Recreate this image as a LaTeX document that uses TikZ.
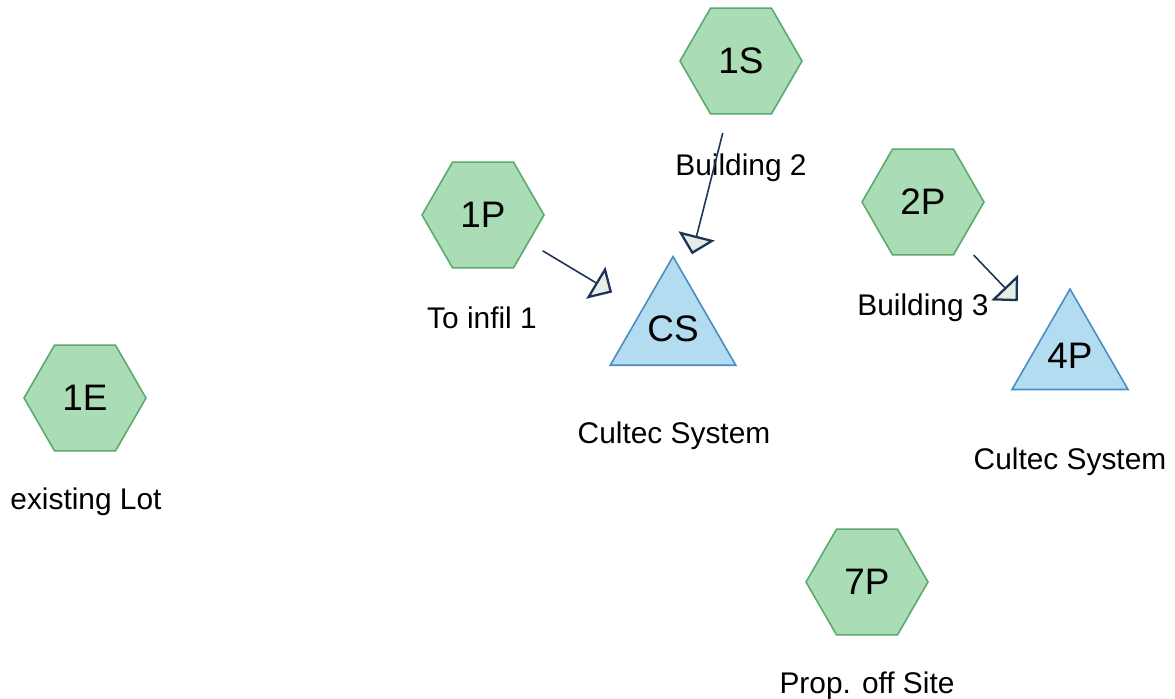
\documentclass[tikz,border=0pt]{standalone}
\usepackage{fontspec}
\setmainfont{Liberation Sans}
\usepackage{tikz}
\usetikzlibrary{arrows.meta,shapes.geometric}
\definecolor{LotCanvas}{HTML}{FFFFFF}
\definecolor{LotGreen}{HTML}{AADDB6}
\definecolor{LotGreenLine}{HTML}{5CA96C}
\definecolor{LotBlue}{HTML}{B3DCF0}
\definecolor{LotBlueLine}{HTML}{4A8CC6}
\definecolor{LotInk}{HTML}{1E3457}
\definecolor{LotTip}{HTML}{E6ECE6}
\tikzset{
  pipe/.style={-{Triangle[length=3.8mm,width=7.4mm,fill=LotTip,line width=1.3pt]},
               LotInk,line width=0.9pt},
  basin/.style={regular polygon,regular polygon sides=6,draw=LotGreenLine,fill=LotGreen,
                line width=0.9pt,minimum size=2.44cm,inner sep=0pt,
                font=\fontsize{21}{25}\selectfont},
  cultec/.style={regular polygon,regular polygon sides=3,draw=LotBlueLine,fill=LotBlue,
                 line width=0.9pt,minimum size=2.68cm,inner sep=0pt,
                 font=\fontsize{21}{25}\selectfont},
  caption/.style={anchor=base,font=\fontsize{17}{20}\selectfont,align=center},
}

\begin{document}
\begin{tikzpicture}[x=.02cm,y=-.02cm]
    \useasboundingbox[fill=LotCanvas] (0,0) rectangle (1175,698);

    % basins
    \node[basin] (p1S) at (741,61) {1S};
    \node[basin] (p1P) at (483,215) {1P};
    \node[basin] (p2P) at (923,202) {2P};
    \node[basin] (p1E) at (85,398) {1E};
    \node[basin] (p7P) at (867,582) {7P};

    % cultec chambers
    \node[cultec] (cs) at (673,329) {CS};
    \node[cultec] (p4P) at (1070,356) {4P};

    % captions
    \node[caption] (t1S) at (741,175) {Building 2};
    \node[caption] (t1P) at (482,328) {To infil 1};
    \node[caption] (t2P) at (923,315) {Building 3};
    \node[caption] (tcs) at (674,443) {Cultec System};
    \node[caption] (t4P) at (1070,469) {Cultec System};
    \node[caption] (t1E) at (86,509) {existing Lot};
    \node[caption] (t7P) at (867,693) {Prop. off Site};

    % flows
    \draw[pipe,shorten <=3.2mm,shorten >=6.8mm] (p1P) -- (cs);
    \draw[pipe,shorten <=3.8mm,shorten >=4.8mm] (p1S) -- (cs);
    \draw[pipe,shorten <=3.5mm,shorten >=8mm] (p2P) -- (p4P);
  \end{tikzpicture}
\end{document}
